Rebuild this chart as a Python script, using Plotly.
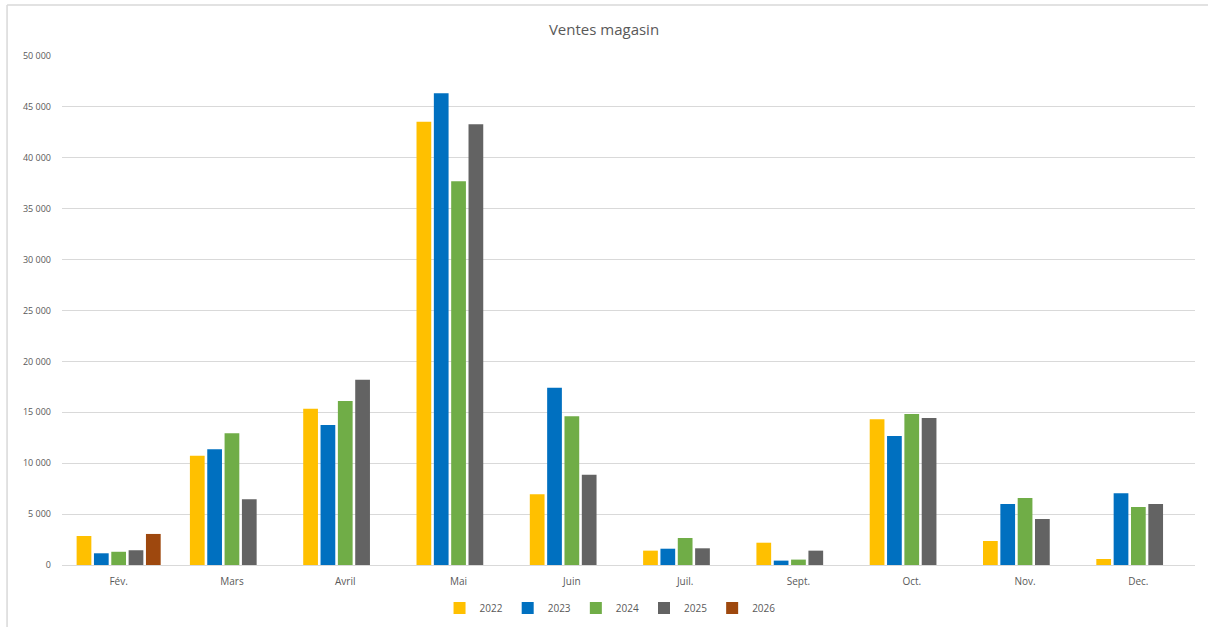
import plotly.graph_objects as go

months = ["Fév.", "Mars", "Avril", "Mai", "Juin", "Juil.", "Sept.", "Oct.", "Nov.", "Dec."]
v2022 = [2850, 10740, 15360, 43550, 6940, 1410, 2190, 14310, 2360, 590]
v2023 = [1150, 11360, 13750, 46330, 17400, 1600, 430, 12670, 5990, 7040]
v2024 = [1300, 12930, 16100, 37690, 14600, 2650, 530, 14830, 6580, 5700]
v2025 = [1450, 6450, 18200, 43290, 8870, 1640, 1410, 14440, 4520, 5990]
v2026 = [3050, None, None, None, None, None, None, None, None, None]

series = [
    ("2022", v2022, "#FFC000"),
    ("2023", v2023, "#0070C0"),
    ("2024", v2024, "#70AD47"),
    ("2025", v2025, "#636363"),
    ("2026", v2026, "#9E480E"),
]

fig = go.Figure()
for name, vals, color in series:
    fig.add_trace(go.Bar(x=months, y=vals, name=name, marker=dict(color=color, line=dict(width=0))))

fig.update_layout(
    width=1208, height=627,
    margin=dict(l=62, r=13, t=56, b=62),
    paper_bgcolor="white", plot_bgcolor="white",
    separators=", ",
    font=dict(family="Open Sans, Liberation Sans, sans-serif", color="#595959", size=10),
    title=dict(text="Ventes magasin", x=0.5, xref="container", xanchor="center",
               y=1 - 30 / 627, yref="container", yanchor="middle",
               font=dict(size=15, color="#595959")),
    barmode="group", bargap=0.235, bargroupgap=0.15,
    legend=dict(orientation="h", x=0.505, xref="container", xanchor="center",
                y=1 - 608 / 627, yref="container", yanchor="middle",
                font=dict(size=10, color="#595959"), itemwidth=30,
                traceorder="normal"),
    xaxis=dict(showgrid=False, showline=True, linecolor="#d9d9d9", linewidth=1,
               automargin=False,
               ticks="", ticklabelstandoff=7, tickfont=dict(size=10, color="#595959")),
    yaxis=dict(range=[0, 50000], dtick=5000, tickformat=",", showgrid=True,
               gridcolor="#d9d9d9", gridwidth=1, zeroline=False, showline=False,
               automargin=False,
               ticks="", ticklabelstandoff=10, tickfont=dict(size=9, color="#595959")),
    shapes=[
        dict(type="line", xref="paper", yref="paper", x0=-0.0485, x1=-0.0485, y0=1.1002, y1=-0.2,
             line=dict(color="#d9d9d9", width=1.5)),
        dict(type="line", xref="paper", yref="paper", x0=-0.0485, x1=1.02, y0=1.1002, y1=1.1002,
             line=dict(color="#d9d9d9", width=1.5)),
    ],
)

fig.write_html("out.html", config={"displayModeBar": False},
               post_script="document.body.style.margin='0';")
